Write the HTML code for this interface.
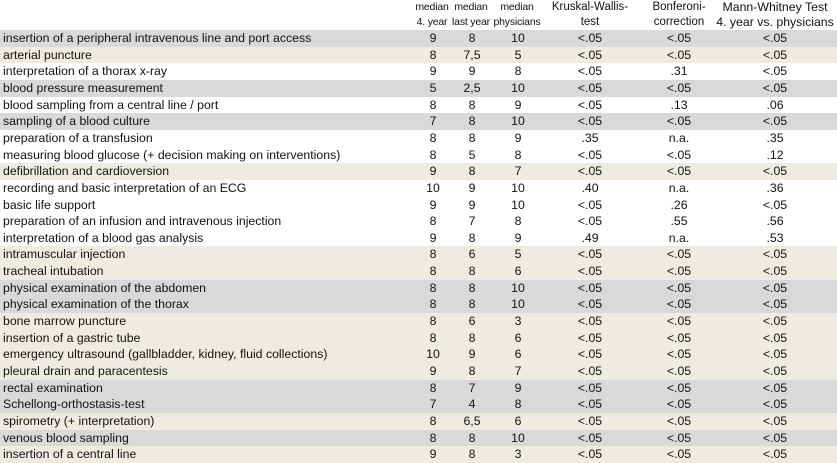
<!DOCTYPE html>
<html><head><meta charset="utf-8"><style>
body{margin:0;width:837px;height:463px;background:#fff;font-family:"Liberation Sans",sans-serif;font-size:12.3px;color:#111;position:relative;overflow:hidden}
.h{position:absolute;top:0;height:30px;text-align:center;line-height:15px;transform:translateX(-50%);white-space:nowrap;font-size:11.5px}
.n{font-size:10.5px;letter-spacing:-0.2px}
.r{position:absolute;left:0;width:837px;height:16.65px;line-height:16.65px}
.r span{position:absolute;white-space:nowrap}
.r span.c{transform:translateX(-50%)}
.g{background:#d9d9d9}.b{background:#eeece1}
</style></head><body>
<div class="h n" style="left:432px">median<br>4. year</div>
<div class="h n" style="left:471px">median<br>last year</div>
<div class="h n" style="left:517px">median<br>physicians</div>
<div class="h" style="left:590px">Kruskal-Wallis-<br>test</div>
<div class="h" style="left:679px">Bonferoni-<br>correction</div>
<div class="h" style="left:775px;font-size:12.3px">Mann-Whitney Test<br>4. year vs. physicians</div>
<div id="t"></div>
<script>
var d=[
["g","insertion of a peripheral intravenous line and port access","9","8","10","<.05","<.05","<.05"],
["b","arterial puncture","8","7,5","5","<.05","<.05","<.05"],
["","interpretation of a thorax x-ray","9","9","8","<.05",".31","<.05"],
["g","blood pressure measurement","5","2,5","10","<.05","<.05","<.05"],
["","blood sampling from a central line / port","8","8","9","<.05",".13",".06"],
["g","sampling of a blood culture","7","8","10","<.05","<.05","<.05"],
["","preparation of a transfusion","8","8","9",".35","n.a.",".35"],
["","measuring blood glucose (+ decision making on interventions)","8","5","8","<.05","<.05",".12"],
["b","defibrillation and cardioversion","9","8","7","<.05","<.05","<.05"],
["","recording and basic interpretation of an ECG","10","9","10",".40","n.a.",".36"],
["","basic life support","9","9","10","<.05",".26","<.05"],
["","preparation of an infusion and intravenous injection","8","7","8","<.05",".55",".56"],
["","interpretation of a blood gas analysis","9","8","9",".49","n.a.",".53"],
["b","intramuscular injection","8","6","5","<.05","<.05","<.05"],
["b","tracheal intubation","8","8","6","<.05","<.05","<.05"],
["g","physical examination of the abdomen","8","8","10","<.05","<.05","<.05"],
["g","physical examination of the thorax","8","8","10","<.05","<.05","<.05"],
["b","bone marrow puncture","8","6","3","<.05","<.05","<.05"],
["b","insertion of a gastric tube","8","8","6","<.05","<.05","<.05"],
["b","emergency ultrasound (gallbladder, kidney, fluid collections)","10","9","6","<.05","<.05","<.05"],
["b","pleural drain and paracentesis","9","8","7","<.05","<.05","<.05"],
["g","rectal examination","8","7","9","<.05","<.05","<.05"],
["g","Schellong-orthostasis-test","7","4","8","<.05","<.05","<.05"],
["b","spirometry (+ interpretation)","8","6,5","6","<.05","<.05","<.05"],
["g","venous blood sampling","8","8","10","<.05","<.05","<.05"],
["b","insertion of a central line","9","8","3","<.05","<.05","<.05"]];
var xs=[433,472,518,590,679,775],h="";
d.forEach(function(r,i){
h+='<div class="r '+r[0]+'" style="top:'+(30+i*16.65)+'px"><span style="left:3px">'+r[1].replace(/</g,"&lt;")+'</span>';
for(var j=0;j<6;j++)h+='<span class="c" style="left:'+xs[j]+'px">'+r[j+2].replace(/</g,"&lt;")+'</span>';
h+='</div>';});
document.getElementById("t").innerHTML=h;
</script>
</body></html>
